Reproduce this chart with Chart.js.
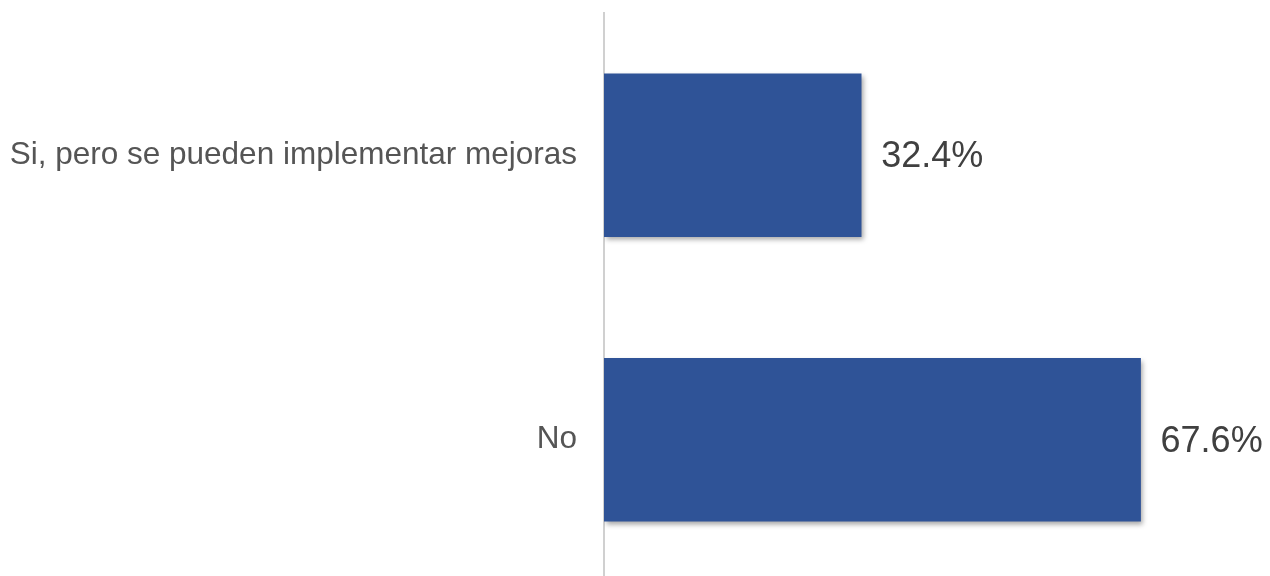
<!DOCTYPE html>
<html>
<head>
<meta charset="utf-8">
<script src="https://cdn.jsdelivr.net/npm/chart.js@4"></script>
<style>
    html, body { margin: 0; padding: 0; background: #fff; overflow: hidden; }
    #wrap { position: relative; width: 1270px; height: 582px; }
</style>
</head>
<body>
<div id="wrap"><canvas id="respuestasChart"></canvas></div>
<script>
// Datos del gráfico
const categorias = ['Si, pero se pueden implementar mejoras', 'No'];
const porcentajes = [32.4, 67.6];

// Sombra bajo las barras
const sombraBarras = {
    id: 'sombraBarras',
    beforeDatasetsDraw(chart) {
        const ctx = chart.ctx;
        ctx.save();
        ctx.shadowColor = 'rgba(0, 0, 0, 0.35)';
        ctx.shadowBlur = 5;
        ctx.shadowOffsetX = 2;
        ctx.shadowOffsetY = 3;
    },
    afterDatasetsDraw(chart) {
        chart.ctx.restore();
    }
};

// Etiquetas de valor al final de cada barra
const etiquetasValor = {
    id: 'etiquetasValor',
    afterDraw(chart) {
        const ctx = chart.ctx;
        const meta = chart.getDatasetMeta(0);
        ctx.save();
        ctx.font = '36px "Liberation Sans", Arial, sans-serif';
        ctx.fillStyle = '#404040';
        ctx.textAlign = 'left';
        ctx.textBaseline = 'middle';
        meta.data.forEach((bar, i) => {
            ctx.fillText(porcentajes[i].toFixed(1) + '%', bar.x + 20, bar.y + 2);
        });
        ctx.restore();
    }
};

const ctx = document.getElementById('respuestasChart').getContext('2d');
new Chart(ctx, {
    type: 'bar',
    data: {
        labels: categorias,
        datasets: [{
            data: porcentajes,
            backgroundColor: '#2f5397',
            borderWidth: 0,
            barThickness: 163
        }]
    },
    options: {
        indexAxis: 'y',
        responsive: true,
        maintainAspectRatio: false,
        animation: false,
        layout: {
            padding: { top: 13, right: 31, bottom: 0, left: 0 }
        },
        plugins: {
            legend: { display: false },
            tooltip: { enabled: false }
        },
        scales: {
            x: {
                display: false,
                min: 0,
                max: 80
            },
            y: {
                grid: { display: false, drawTicks: false },
                border: { display: true, color: '#d0d0d0', width: 2 },
                ticks: {
                    color: '#555555',
                    padding: 27,
                    font: { family: '"Liberation Sans", Arial, sans-serif', size: 31.5 }
                },
                afterFit(scale) {
                    // ancho fijo del eje y sin relleno vertical extra
                    scale.width = 604;
                    scale.paddingTop = 0;
                    scale.paddingBottom = 0;
                }
            }
        }
    },
    plugins: [sombraBarras, etiquetasValor]
});
</script>
</body>
</html>
